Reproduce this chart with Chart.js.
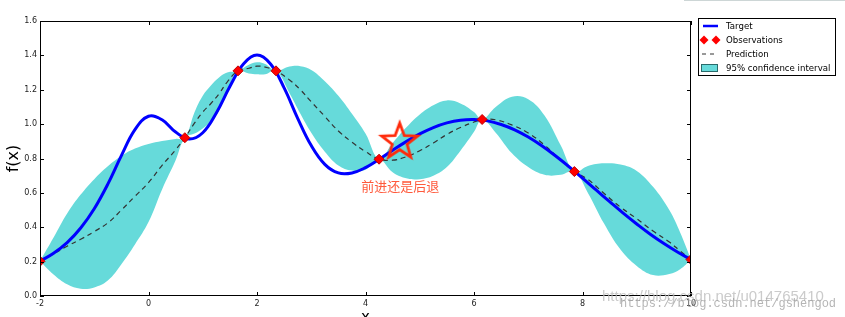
<!DOCTYPE html>
<html>
<head>
<meta charset="utf-8">
<script src="https://cdn.jsdelivr.net/npm/chart.js@4"></script>
<style>
  html, body { margin: 0; padding: 0; background: #fff; }
  #c { display: block; }
</style>
</head>
<body>
<canvas id="c" width="845" height="317"></canvas>
<script>
// target curve
const targetX = [-2, -1.75, -1.5, -1.25, -1, -0.75, -0.5, -0.25, 0, 0.25, 0.5, 0.75, 1, 1.25, 1.5, 1.75, 2,
  2.25, 2.5, 2.75, 3, 3.25, 3.5, 3.75, 4, 4.25, 4.5, 4.75, 5, 5.25, 5.5, 5.75, 6, 6.25, 6.5, 6.75, 7,
  7.25, 7.5, 7.75, 8, 8.25, 8.5, 8.75, 9, 9.25, 9.5, 9.75, 10];
const targetY = [0.202, 0.249, 0.311, 0.396, 0.508, 0.651, 0.817, 0.968, 1.046, 1.025, 0.954, 0.913, 0.950,
  1.065, 1.219, 1.350, 1.402, 1.350, 1.211, 1.034, 0.875, 0.766, 0.716, 0.716, 0.747, 0.795, 0.848,
  0.898, 0.943, 0.980, 1.007, 1.023, 1.027, 1.019, 0.998, 0.967, 0.925, 0.874, 0.816, 0.753, 0.686,
  0.617, 0.549, 0.482, 0.419, 0.359, 0.305, 0.256, 0.212];

// observations
const obsX = [-2, 0.67, 1.65, 2.35, 4.25, 6.15, 7.85, 10];
const obsY = [0.202, 0.921, 1.31, 1.31, 0.796, 1.027, 0.724, 0.212];

// prediction and 95% band
const gridX = [-2, -1.75, -1.5, -1.25, -1, -0.75, -0.5, -0.25, 0, 0.25, 0.5, 0.67,
  0.85, 1.0, 1.15, 1.3, 1.45, 1.65, 1.85, 2.0, 2.15, 2.35,
  2.6, 2.8, 3.0, 3.25, 3.5, 3.75, 4.0, 4.25, 4.5, 4.75, 5.0, 5.25, 5.5, 5.75, 6.0, 6.15,
  6.4, 6.7, 7.0, 7.3, 7.6, 7.85, 8.1, 8.4, 8.7, 9.0, 9.3, 9.6, 9.8, 10];
const predY = [0.202, 0.245, 0.29, 0.33, 0.375, 0.425, 0.50, 0.58, 0.66, 0.76, 0.85, 0.921,
  1.007, 1.07, 1.12, 1.176, 1.245, 1.31, 1.325, 1.337, 1.332, 1.31,
  1.257, 1.20, 1.13, 1.045, 0.96, 0.895, 0.84, 0.796, 0.79, 0.81, 0.845, 0.89, 0.94, 0.98, 1.012, 1.027,
  1.025, 0.995, 0.948, 0.878, 0.79, 0.724, 0.678, 0.596, 0.517, 0.45, 0.378, 0.314, 0.262, 0.212];
const upperY = [0.202, 0.34, 0.48, 0.59, 0.68, 0.755, 0.815, 0.858, 0.885, 0.902, 0.914, 0.921,
  1.07, 1.165, 1.225, 1.272, 1.30, 1.31, 1.345, 1.36, 1.35, 1.31,
  1.335, 1.337, 1.315, 1.25, 1.165, 1.06, 0.945, 0.796, 0.89, 0.98, 1.056, 1.11, 1.138, 1.12, 1.07, 1.027,
  1.10, 1.16, 1.145, 1.05, 0.875, 0.724, 0.757, 0.772, 0.765, 0.728, 0.635, 0.50, 0.37, 0.212];
const lowerY = [0.202, 0.125, 0.068, 0.042, 0.05, 0.09, 0.185, 0.30, 0.43, 0.62, 0.79, 0.921,
  0.945, 0.975, 1.015, 1.08, 1.19, 1.31, 1.295, 1.29, 1.29, 1.31,
  1.18, 1.06, 0.95, 0.84, 0.76, 0.73, 0.735, 0.796, 0.72, 0.685, 0.68, 0.70, 0.75, 0.845, 0.955, 1.027,
  0.95, 0.83, 0.75, 0.705, 0.705, 0.724, 0.60, 0.42, 0.27, 0.175, 0.122, 0.128, 0.155, 0.212];

// the "next point" star and its note
const starX = [4.63];
const starY = [0.897];
const noteText = '前进还是后退';
const noteX = 4.64;
const noteY = 0.64;

const xTicks = [-2, 0, 2, 4, 6, 8, 10];
const yTicks = [0, 0.2, 0.4, 0.6, 0.8, 1.0, 1.2, 1.4, 1.6];

const legendLabels = ['Target', 'Observations', 'Prediction', '95% confidence interval'];

const pts = (xs, ys) => xs.map((x, i) => ({ x: x, y: ys[i] }));

const CYAN = '#66dada';
const RED = '#ff0000';
const STAR_RED = '#ff2a0a';

function starImage() {
  const c = document.createElement('canvas');
  c.width = 46; c.height = 46;
  const g = c.getContext('2d');
  g.beginPath();
  for (let i = 0; i < 10; i++) {
    const r = i % 2 ? 7.8 : 18.8;
    const a = -Math.PI / 2 + i * Math.PI / 5;
    g.lineTo(23 + r * Math.cos(a), 23 + r * Math.sin(a));
  }
  g.closePath();
  g.lineWidth = 2.8;
  g.strokeStyle = STAR_RED;
  g.stroke();
  return c;
}

// frame, inward ticks, labels, legend, note, watermarks
const decorations = {
  id: 'decorations',
  afterDraw(chart) {
    const ctx = chart.ctx;
    const a = chart.chartArea;
    const xs = chart.scales.x, ys = chart.scales.y;
    ctx.save();

    ctx.strokeStyle = '#000';
    ctx.lineWidth = 1;
    ctx.strokeRect(a.left + 0.5, a.top + 0.5, a.right - a.left - 1, a.bottom - a.top - 1);
    ctx.beginPath();
    xTicks.forEach(v => {
      const px = Math.round(xs.getPixelForValue(v)) + 0.5;
      ctx.moveTo(px, a.bottom); ctx.lineTo(px, a.bottom - 4);
      ctx.moveTo(px, a.top); ctx.lineTo(px, a.top + 4);
    });
    yTicks.forEach(v => {
      const py = Math.round(ys.getPixelForValue(v)) + 0.5;
      ctx.moveTo(a.left, py); ctx.lineTo(a.left + 4, py);
      ctx.moveTo(a.right, py); ctx.lineTo(a.right - 4, py);
    });
    ctx.stroke();

    // axis titles
    ctx.fillStyle = '#000';
    ctx.font = '15px "DejaVu Sans"';
    ctx.textAlign = 'center';
    ctx.textBaseline = 'middle';
    ctx.fillText('x', (a.left + a.right) / 2, 318);
    ctx.save();
    ctx.translate(14, (a.top + a.bottom) / 2);
    ctx.rotate(-Math.PI / 2);
    ctx.font = '16px "DejaVu Sans"';
    ctx.fillText('f(x)', 0, 0);
    ctx.restore();

    // note under the star
    ctx.fillStyle = '#ff5a3c';
    ctx.font = '13px "Noto Sans CJK SC"';
    ctx.fillText(noteText, xs.getPixelForValue(noteX), ys.getPixelForValue(noteY));

    // legend
    const lx = 698, ly = 18;
    ctx.fillStyle = '#fff';
    ctx.fillRect(lx, ly, 138, 58);
    ctx.strokeStyle = '#000';
    ctx.strokeRect(lx + 0.5, ly + 0.5, 137, 57);
    const rows = [26, 40, 54, 68];
    ctx.lineWidth = 2.5;
    ctx.strokeStyle = '#0000ff';
    ctx.beginPath(); ctx.moveTo(703, rows[0]); ctx.lineTo(718, rows[0]); ctx.stroke();
    ctx.fillStyle = RED;
    [704, 716].forEach(cx => {
      ctx.beginPath();
      ctx.moveTo(cx, rows[1] - 4.5); ctx.lineTo(cx + 4.5, rows[1]);
      ctx.lineTo(cx, rows[1] + 4.5); ctx.lineTo(cx - 4.5, rows[1]);
      ctx.closePath(); ctx.fill();
    });
    ctx.lineWidth = 1;
    ctx.strokeStyle = '#333';
    ctx.setLineDash([4, 4]);
    ctx.beginPath(); ctx.moveTo(702, rows[2]); ctx.lineTo(718, rows[2]); ctx.stroke();
    ctx.setLineDash([]);
    ctx.fillStyle = CYAN;
    ctx.fillRect(701, rows[3] - 4, 17, 8);
    ctx.strokeStyle = '#2a6a6a';
    ctx.strokeRect(701.5, rows[3] - 3.5, 16, 7);
    ctx.fillStyle = '#000';
    ctx.font = '8.6px "DejaVu Sans"';
    ctx.textAlign = 'left';
    legendLabels.forEach((t, i) => ctx.fillText(t, 726, rows[i] + 0.5));

    // watermarks
    ctx.fillStyle = 'rgba(185,185,185,0.75)';
    ctx.font = '15px "Liberation Sans"';
    ctx.fillText('https://blog.csdn.net/u014765410', 602, 297, 235);
    ctx.fillStyle = 'rgba(150,150,150,0.7)';
    ctx.font = '12px "Liberation Mono"';
    ctx.fillText('https://blog.csdn.net/gshengod', 620, 304, 222);

    ctx.strokeStyle = 'rgba(200,210,210,0.9)';
    ctx.beginPath(); ctx.moveTo(684, 0.5); ctx.lineTo(845, 0.5); ctx.stroke();
    ctx.restore();
  }
};

new Chart(document.getElementById('c').getContext('2d'), {
  type: 'line',
  data: {
    datasets: [
      {
        label: 'upper',
        data: pts(gridX, upperY),
        borderWidth: 0,
        borderColor: 'rgba(0,0,0,0)',
        backgroundColor: CYAN,
        pointRadius: 0,
        fill: '+1',
        tension: 0.4,
        order: 6
      },
      {
        label: 'lower',
        data: pts(gridX, lowerY),
        borderWidth: 0,
        borderColor: 'rgba(0,0,0,0)',
        pointRadius: 0,
        fill: false,
        tension: 0.4,
        order: 5
      },
      {
        label: 'Prediction',
        data: pts(gridX, predY),
        borderColor: '#333',
        borderWidth: 1.2,
        borderDash: [5, 4],
        pointRadius: 0,
        fill: false,
        tension: 0.4,
        order: 4
      },
      {
        label: 'Target',
        data: pts(targetX, targetY),
        borderColor: '#0000ff',
        borderWidth: 3,
        pointRadius: 0,
        fill: false,
        tension: 0.4,
        order: 3
      },
      {
        label: 'Observations',
        data: pts(obsX, obsY),
        showLine: false,
        pointStyle: 'rectRot',
        pointRadius: 5,
        backgroundColor: RED,
        borderColor: '#c00000',
        borderWidth: 1,
        order: 2
      },
      {
        label: 'next',
        data: pts(starX, starY),
        showLine: false,
        pointStyle: starImage(),
        pointRadius: 20,
        order: 1
      }
    ]
  },
  options: {
    responsive: false,
    animation: false,
    events: [],
    layout: { padding: { left: 0, right: 154, top: 19, bottom: 0 } },
    plugins: { legend: { display: false }, tooltip: { enabled: false } },
    scales: {
      x: {
        type: 'linear',
        min: -2, max: 10,
        afterFit: s => { s.height = 21; },
        afterBuildTicks: s => { s.ticks = xTicks.map(v => ({ value: v })); },
        grid: { display: false, drawTicks: false },
        border: { display: false },
        ticks: { padding: 3, color: '#222', font: { family: 'DejaVu Sans', size: 8 }, maxRotation: 0 }
      },
      y: {
        min: 0, max: 1.6,
        afterFit: s => { s.width = 40; },
        afterBuildTicks: s => { s.ticks = yTicks.map(v => ({ value: v })); },
        grid: { display: false, drawTicks: false },
        border: { display: false },
        ticks: {
          padding: 3, color: '#222', font: { family: 'DejaVu Sans', size: 8 },
          callback: v => v.toFixed(1)
        }
      }
    }
  },
  plugins: [decorations]
});
</script>
</body>
</html>
